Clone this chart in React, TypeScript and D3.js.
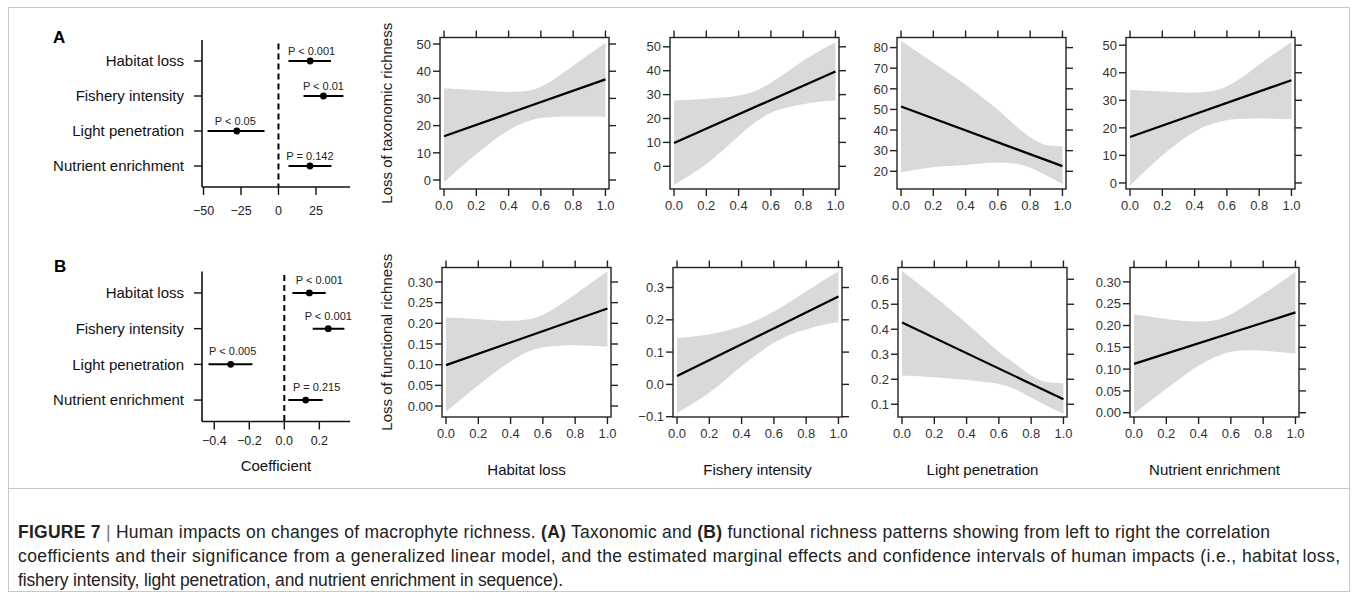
import React from "react";
import * as d3 from "d3";

const FONT = "'Liberation Sans', Arial, Helvetica, sans-serif";

// predictors (same order in every panel)
const impacts = ["Habitat loss", "Fishery intensity", "Light penetration", "Nutrient enrichment"];

// coefficient plot, taxonomic richness (A)
const coefA = [21.1, 30, -27.8, 21];
const lowA = [6.7, 16.7, -47.3, 6.7];
const highA = [35, 43.3, -9.3, 35.3];
const pA = ["P < 0.001", "P < 0.01", "P < 0.05", "P = 0.142"];
const coefTicksA = [-50, -25, 0, 25];

// coefficient plot, functional richness (B)
const coefB = [0.143, 0.251, -0.306, 0.122];
const lowB = [0.046, 0.162, -0.433, 0.023];
const highB = [0.236, 0.343, -0.182, 0.219];
const pB = ["P < 0.001", "P < 0.001", "P < 0.005", "P = 0.215"];
const coefTicksB = [-0.4, -0.2, 0, 0.2];

// marginal effects: x positions where the confidence band was read
const bandX = [0, 0.2, 0.4, 0.5, 0.6, 0.7, 0.8, 0.9, 1];
const xTicks = [0, 0.2, 0.4, 0.6, 0.8, 1];

// taxonomic richness: fitted line at x = 0 and x = 1, band upper / lower
const fitTax = [[16.1, 37.0], [9.8, 39.7], [51.4, 22.5], [16.7, 37.3]];
const upperTax = [
  [33.7, 33.0, 32.4, 32.6, 34.3, 37.8, 42.0, 46.3, 50.4],
  [27.5, 28.3, 29.6, 31.4, 35.0, 39.5, 44.2, 48.2, 51.9],
  [83.3, 72.7, 62.0, 56.0, 49.8, 42.8, 36.5, 32.8, 32.1],
  [33.8, 33.2, 32.8, 33.3, 35.0, 38.6, 43.0, 47.2, 51.2],
];
const lowerTax = [
  [-0.8, 9.6, 18.3, 21.2, 22.8, 23.3, 23.4, 23.4, 23.3],
  [-7.7, 1.0, 12.6, 18.3, 22.4, 24.6, 26.0, 27.0, 27.5],
  [19.5, 22.0, 23.0, 23.8, 24.2, 23.8, 21.8, 18.0, 13.8],
  [-1.0, 10.0, 18.6, 21.3, 22.8, 23.3, 23.5, 23.3, 23.1],
];
const yDomTax = [[-3.3, 52.4], [-9.5, 53.9], [11.4, 84.9], [-2.2, 52.8]];
const yTicksTax = [
  [0, 10, 20, 30, 40, 50],
  [0, 10, 20, 30, 40, 50],
  [20, 30, 40, 50, 60, 70, 80],
  [0, 10, 20, 30, 40, 50],
];

// functional richness
const fitFun = [[0.099, 0.236], [0.026, 0.272], [0.427, 0.12], [0.112, 0.23]];
const upperFun = [
  [0.214, 0.21, 0.206, 0.209, 0.221, 0.243, 0.27, 0.298, 0.326],
  [0.144, 0.155, 0.18, 0.2, 0.226, 0.256, 0.288, 0.32, 0.35],
  [0.633, 0.532, 0.424, 0.366, 0.309, 0.262, 0.215, 0.188, 0.184],
  [0.226, 0.215, 0.209, 0.212, 0.226, 0.248, 0.272, 0.297, 0.323],
];
const lowerFun = [
  [-0.014, 0.05, 0.108, 0.13, 0.142, 0.146, 0.147, 0.146, 0.144],
  [-0.088, -0.026, 0.057, 0.095, 0.129, 0.154, 0.17, 0.184, 0.193],
  [0.215, 0.208, 0.197, 0.19, 0.181, 0.161, 0.127, 0.093, 0.062],
  [-0.002, 0.055, 0.108, 0.127, 0.14, 0.143, 0.142, 0.139, 0.135],
];
const yDomFun = [[-0.0265, 0.335], [-0.101, 0.362], [0.049, 0.647], [-0.0098, 0.333]];
const yTicksFun = [
  [0, 0.05, 0.1, 0.15, 0.2, 0.25, 0.3],
  [-0.1, 0, 0.1, 0.2, 0.3],
  [0.1, 0.2, 0.3, 0.4, 0.5, 0.6],
  [0, 0.05, 0.1, 0.15, 0.2, 0.25, 0.3],
];
const yFmtFun = [".2f", ".1f", ".1f", ".2f"];

// layout
const lefts = { A: [440, 670, 897, 1126], B: [442, 673, 898, 1130] };
const panelW = 169;
const rowY = { A: [37.5, 189], B: [267.5, 417] };
// small sideways shifts of the P labels (px) so they clear the zero line
const nudgeA = [1.5, 0, -1.5, 0];
const nudgeB = [10, 0, 2, 11];

function CoefPanel({ y0, y1, domain, ticks, fmt, est, lo, hi, pLab, nudge, pDy, tickDy }: any) {
  const x0 = 202, x1 = 350;
  const x = d3.scaleLinear().domain(domain).range([x0, x1]);
  const y = d3.scaleLinear().domain([0.4, 4.6]).range([y1, y0]);
  const rows = impacts.map((name, i) => ({ name, pos: 4 - i, est: est[i], lo: lo[i], hi: hi[i], p: pLab[i], dx: nudge[i] }));
  return (
    <g>
      <line x1={x(0)} x2={x(0)} y1={y(4.5)} y2={y1} stroke="#000" strokeWidth={2} strokeDasharray="6,4" />
      <line x1={x0} x2={x0} y1={y0} y2={y1} stroke="#111" strokeWidth={1.6} />
      <line x1={x0} x2={x1} y1={y1} y2={y1} stroke="#111" strokeWidth={1.6} />
      {ticks.map((t: number) => (
        <g key={t}>
          <line x1={x(t)} x2={x(t)} y1={y1} y2={y1 + 8} stroke="#111" strokeWidth={1.4} />
          <text x={x(t)} y={y1 + tickDy} textAnchor="middle" fontSize={12.5} fill="#222">{fmt(t)}</text>
        </g>
      ))}
      {rows.map((r) => (
        <g key={r.name}>
          <line x1={x0 - 8} x2={x0} y1={y(r.pos)} y2={y(r.pos)} stroke="#111" strokeWidth={1.4} />
          <text x={x0 - 18} y={y(r.pos)} dy="0.36em" textAnchor="end" fontSize={15} fill="#111">{r.name}</text>
          <line x1={x(r.lo)} x2={x(r.hi)} y1={y(r.pos)} y2={y(r.pos)} stroke="#000" strokeWidth={2} />
          <circle cx={x(r.est)} cy={y(r.pos)} r={3.4} fill="#000" />
          <text x={x(r.est) + r.dx} y={y(r.pos) - pDy} textAnchor="middle" fontSize={11} fill="#222">{r.p}</text>
        </g>
      ))}
    </g>
  );
}

function EffectPanel({ left, top, bottom, yDom, yTicks, fmt, upper, lower, fit }: any) {
  const right = left + panelW;
  const x = d3.scaleLinear().domain([-0.025, 1.022]).range([left, right]);
  const y = d3.scaleLinear().domain(yDom).range([bottom, top]);
  const pts = bandX.map((v, i) => ({ x: v, hi: upper[i], lo: lower[i] }));
  const area = d3.area<any>().x((d) => x(d.x)).y0((d) => y(d.lo)).y1((d) => y(d.hi)).curve(d3.curveMonotoneX);
  const line = d3.line<any>().x((d) => x(d[0])).y((d) => y(d[1]));
  const f = d3.format(fmt);
  const tl = 7;
  return (
    <g>
      <path d={area(pts) || ""} fill="#d9d9d9" />
      <path d={line([[0, fit[0]], [1, fit[1]]]) || ""} fill="none" stroke="#000" strokeWidth={2.2} />
      <rect x={left} y={top} width={panelW} height={bottom - top} fill="none" stroke="#222" strokeWidth={1.4} />
      {xTicks.map((t) => (
        <g key={t}>
          <line x1={x(t)} x2={x(t)} y1={bottom} y2={bottom + tl} stroke="#222" strokeWidth={1.4} />
          <line x1={x(t)} x2={x(t)} y1={top} y2={top - tl} stroke="#222" strokeWidth={1.4} />
          <text x={x(t)} y={bottom + 20.5} textAnchor="middle" fontSize={13} fill="#333">{d3.format(".1f")(t)}</text>
        </g>
      ))}
      {yTicks.map((t: number) => (
        <g key={t}>
          <line x1={left - tl} x2={left} y1={y(t)} y2={y(t)} stroke="#222" strokeWidth={1.4} />
          <line x1={right} x2={right + tl} y1={y(t)} y2={y(t)} stroke="#222" strokeWidth={1.4} />
          <text x={left - tl - 2} y={y(t)} dy="0.36em" textAnchor="end" fontSize={13} fill="#333">{f(t)}</text>
        </g>
      ))}
    </g>
  );
}

export default function App() {
  const fmtInt = d3.format("d");
  const fmt1 = d3.format(".1f");
  return (
    <svg width={1358} height={594} style={{ position: "absolute", left: 0, top: 0, background: "#fff" }} fontFamily={FONT}>
      <rect x={8.5} y={7.5} width={1341} height={584} fill="none" stroke="#c8c8c8" />
      <line x1={8.5} x2={1349.5} y1={488.5} y2={488.5} stroke="#c8c8c8" />

      <text x={53} y={43} fontSize={17} fontWeight="bold" fill="#000">A</text>
      <text x={54} y={272} fontSize={17} fontWeight="bold" fill="#000">B</text>

      <CoefPanel y0={40} y1={187} domain={[-51, 47.7]} ticks={coefTicksA} fmt={fmtInt}
        est={coefA} lo={lowA} hi={highA} pLab={pA} nudge={nudgeA} pDy={6} tickDy={28} />
      <CoefPanel y0={271.5} y1={421.5} domain={[-0.47, 0.375]} ticks={coefTicksB} fmt={fmt1}
        est={coefB} lo={lowB} hi={highB} pLab={pB} nudge={nudgeB} pDy={9} tickDy={23.5} />
      <text x={276} y={471} textAnchor="middle" fontSize={15} fill="#111">Coefficient</text>

      {impacts.map((name, i) => (
        <EffectPanel key={"a" + i} left={lefts.A[i]} top={rowY.A[0]} bottom={rowY.A[1]}
          yDom={yDomTax[i]} yTicks={yTicksTax[i]} fmt="d"
          upper={upperTax[i]} lower={lowerTax[i]} fit={fitTax[i]} />
      ))}
      {impacts.map((name, i) => (
        <EffectPanel key={"b" + i} left={lefts.B[i]} top={rowY.B[0]} bottom={rowY.B[1]}
          yDom={yDomFun[i]} yTicks={yTicksFun[i]} fmt={yFmtFun[i]}
          upper={upperFun[i]} lower={lowerFun[i]} fit={fitFun[i]} />
      ))}
      {impacts.map((name, i) => (
        <text key={"xl" + i} x={lefts.B[i] + panelW / 2} y={475} textAnchor="middle" fontSize={15} fill="#111">{name}</text>
      ))}

      <text transform={`translate(392,${(rowY.A[0] + rowY.A[1]) / 2}) rotate(-90)`} textAnchor="middle" fontSize={15} fill="#222">Loss of taxonomic richness</text>
      <text transform={`translate(392,${(rowY.B[0] + rowY.B[1]) / 2}) rotate(-90)`} textAnchor="middle" fontSize={15} fill="#222">Loss of functional richness</text>

      <g fontSize={17.5} fill="#222">
        <text x={18} y={538} textLength={1252} lengthAdjust="spacing">
          <tspan fontWeight="bold">FIGURE 7</tspan>
          <tspan fill="#777"> | </tspan>
          <tspan>Human impacts on changes of macrophyte richness. </tspan>
          <tspan fontWeight="bold">(A)</tspan>
          <tspan> Taxonomic and </tspan>
          <tspan fontWeight="bold">(B)</tspan>
          <tspan> functional richness patterns showing from left to right the correlation</tspan>
        </text>
        <text x={18} y={562} textLength={1322} lengthAdjust="spacing">coefficients and their significance from a generalized linear model, and the estimated marginal effects and confidence intervals of human impacts (i.e., habitat loss,</text>
        <text x={18} y={586} textLength={545} lengthAdjust="spacing">fishery intensity, light penetration, and nutrient enrichment in sequence).</text>
      </g>
    </svg>
  );
}
